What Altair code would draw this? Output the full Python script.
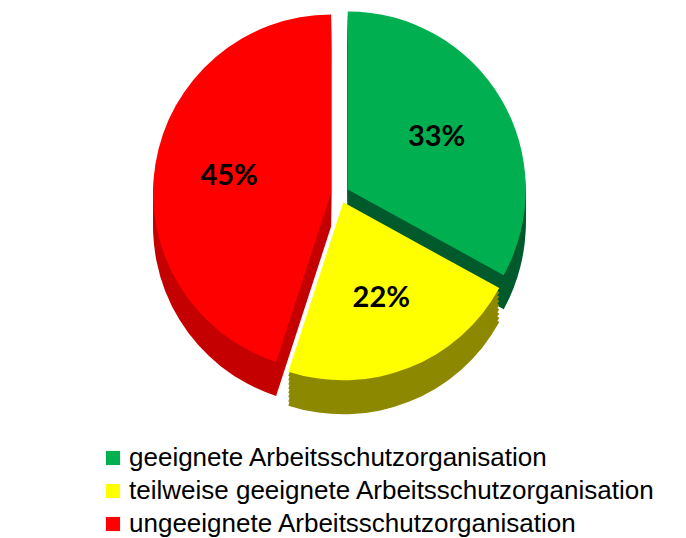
import altair as alt
import pandas as pd

categories = [
    "geeignete Arbeitsschutzorganisation",
    "teilweise geeignete Arbeitsschutzorganisation",
    "ungeeignete Arbeitsschutzorganisation",
]
values = [33, 22, 45]
labels = ["33%", "22%", "45%"]
top_colors = ["#00B050", "#FFFF00", "#FF0000"]
side_colors = ["#005A2C", "#8C8900", "#C40000"]

df = pd.DataFrame({"cat": categories, "value": values, "label": labels, "order": [0, 1, 2]})

CX, CY, R, DEPTH, EXPLODE = 332, 186, 178, 34, 9

base = (
    alt.Chart(df)
    .transform_window(cum="sum(value)", sort=[alt.SortField("order")], frame=[None, 0])
    .transform_joinaggregate(total="sum(value)")
    .transform_calculate(
        a0="2*PI*(datum.cum-datum.value)/datum.total",
        a1="2*PI*datum.cum/datum.total",
    )
    .transform_calculate(mid="(datum.a0+datum.a1)/2")
    .transform_calculate(
        px=f"{CX}+{EXPLODE}*sin(datum.mid)",
        py=f"{CY}-{EXPLODE}*cos(datum.mid)",
    )
)


def side(d):
    return (
        base.transform_calculate(pyd=f"datum.py+{d}")
        .mark_arc(outerRadius=R)
        .encode(
            x=alt.X("px:Q", scale=None, axis=None),
            y=alt.Y("pyd:Q", scale=None, axis=None),
            theta=alt.Theta("a0:Q", scale=None),
            theta2="a1:Q",
            color=alt.Color(
                "cat:N",
                scale=alt.Scale(domain=categories, range=side_colors),
                legend=None,
            ),
        )
    )


sides = [side(DEPTH * k / 8) for k in range(8, 0, -1)]

top = base.mark_arc(outerRadius=R).encode(
    x=alt.X("px:Q", scale=None, axis=None),
    y=alt.Y("py:Q", scale=None, axis=None),
    theta=alt.Theta("a0:Q", scale=None),
    theta2="a1:Q",
    color=alt.Color(
        "cat:N",
        scale=alt.Scale(domain=categories, range=top_colors),
        legend=alt.Legend(
            title=None,
            orient="none",
            legendX=92,
            legendY=437,
            direction="vertical",
            symbolType="square",
            symbolSize=200,
            symbolStrokeWidth=0,
            labelFont="Liberation Sans",
            labelFontSize=26,
            labelColor="black",
            labelLimit=700,
            rowPadding=7,
            labelOffset=3,
        ),
    ),
)

text = (
    base.transform_calculate(
        tx=f"datum.px+{0.58 * R}*sin(datum.mid)",
        ty=f"datum.py-{0.58 * R}*cos(datum.mid)",
    )
    .mark_text(font="Lato", fontWeight="bold", fontSize=29, color="black")
    .encode(
        x=alt.X("tx:Q", scale=None, axis=None),
        y=alt.Y("ty:Q", scale=None, axis=None),
        text="label:N",
    )
)

chart = (
    alt.layer(*sides, top, text)
    .resolve_scale(color="independent")
    .properties(width=670, height=530, autosize="none", padding=0)
    .configure_view(stroke=None)
)

chart.save("out.html", embed_options={"renderer": "svg", "actions": False})
